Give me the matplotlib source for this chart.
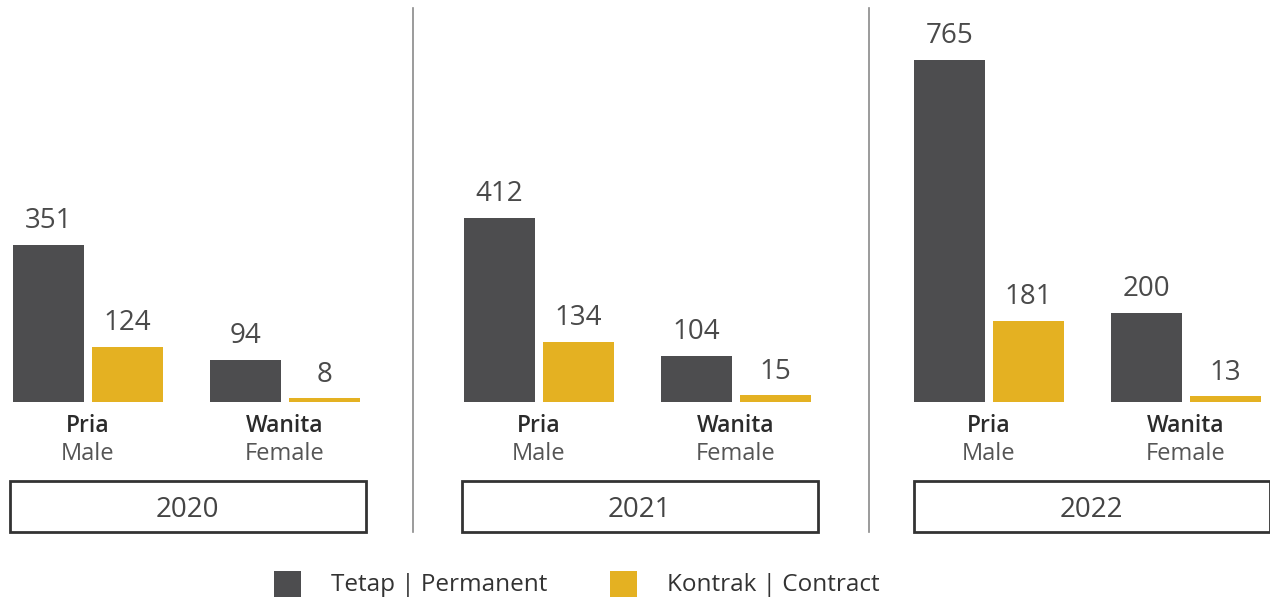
import matplotlib
matplotlib.use('Agg')
import matplotlib.pyplot as plt
from matplotlib.patches import Rectangle

plt.rcParams['font.family'] = ['Open Sans', 'DejaVu Sans']

years = ['2020', '2021', '2022']
gender_id = ['Pria', 'Wanita']
gender_en = ['Male', 'Female']
permanent = [[351, 94], [412, 104], [765, 200]]
contract = [[124, 8], [134, 15], [181, 13]]
series_names = ['Tetap | Permanent', 'Kontrak | Contract']

DARK = '#4d4d4f'
GOLD = '#e4b122'
TXT = '#4a4a4a'

# layout in pixels (figure 1270x597 at dpi 100)
W, H = 1270, 597
BASE = 402            # baseline pixel row from top
SCALE = 342 / 765     # pixels per unit
PANEL_X0 = 13
PANEL_STEP = 450.5
GROUP_STEP = 197
SERIES_STEP = 79
BAR_W = 71
DIVIDERS = [413, 869]


def py(p):
    # pixel row from top -> data units
    return (BASE - p) / SCALE


fig = plt.figure(figsize=(W / 100, H / 100), dpi=100)
ax = fig.add_axes([0, 0, 1, 1])
ax.set_xlim(0, W)
ax.set_ylim(py(H), py(0))
ax.axis('off')

for i, yr in enumerate(years):
    x0 = PANEL_X0 + PANEL_STEP * i
    for j in range(2):
        gx = x0 + GROUP_STEP * j
        for k, (vals, col) in enumerate([(permanent, DARK), (contract, GOLD)]):
            v = vals[i][j]
            bx = gx + SERIES_STEP * k
            ax.bar(bx, v, width=BAR_W, align='edge', color=col, linewidth=0)
            ax.annotate(str(v), (bx + BAR_W / 2, v), xytext=(0, 12),
                        textcoords='offset points', ha='center', va='baseline',
                        fontsize=20, color=TXT)
        cx = gx + (SERIES_STEP + BAR_W) / 2
        ax.text(cx, py(432), gender_id[j], ha='center', va='baseline',
                fontsize=16.5, fontweight='semibold', color='#2b2b2b')
        ax.text(cx, py(460), gender_en[j], ha='center', va='baseline',
                fontsize=17, color='#555555')
    # year box
    pcx = x0 + (GROUP_STEP + SERIES_STEP + BAR_W) / 2 + 1 + 1.5 * i
    ax.add_patch(Rectangle((pcx - 178, py(532)), 356, py(481) - py(532),
                           fill=False, edgecolor='#333333', linewidth=2, clip_on=False))
    ax.text(pcx, py(517), yr, ha='center', va='baseline', fontsize=20, color='#444444')

for dx in DIVIDERS:
    ax.plot([dx, dx], [py(532), py(8)], color='#8a8a8a', linewidth=1.2)

# legend
for k, (name, col, lx) in enumerate(zip(series_names, [DARK, GOLD], [274, 610])):
    ax.add_patch(Rectangle((lx, py(598)), 27, py(571) - py(598),
                           facecolor=col, edgecolor='none', clip_on=False))
    ax.text(lx + 57, py(591), name, ha='left', va='baseline', fontsize=17.5, color='#333333')

fig.savefig('out.png', dpi=100, facecolor='white')
